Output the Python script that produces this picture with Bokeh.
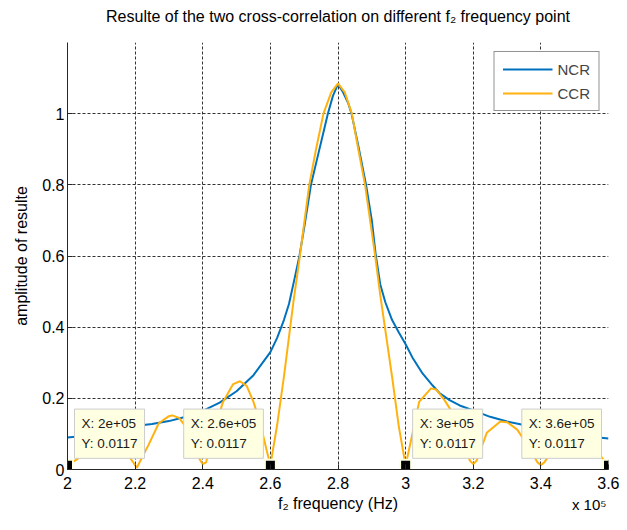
from bokeh.plotting import figure
from bokeh.models import Label, Legend, LegendItem, FixedTicker, Range1d
from bokeh.embed import file_html
from bokeh.resources import INLINE

# ---------------- data ----------------
ncr_freq = [2.00e5, 2.05e5, 2.10e5, 2.15e5, 2.20e5, 2.25e5, 2.30e5, 2.35e5, 2.40e5, 2.45e5,
            2.50e5, 2.55e5, 2.60e5, 2.62e5, 2.64e5, 2.655e5, 2.67e5, 2.686e5, 2.70e5, 2.72e5,
            2.74e5, 2.76e5, 2.77e5, 2.785e5, 2.80e5, 2.815e5, 2.83e5, 2.84e5, 2.86e5, 2.883e5,
            2.90e5, 2.912e5, 2.925e5, 2.94e5, 2.96e5, 2.98e5, 3.00e5, 3.02e5, 3.05e5, 3.08e5,
            3.10e5, 3.13e5, 3.16e5, 3.20e5, 3.25e5, 3.30e5, 3.35e5, 3.40e5, 3.45e5, 3.50e5,
            3.55e5, 3.60e5]
ncr_amp = [0.090, 0.095, 0.105, 0.115, 0.122, 0.128, 0.136, 0.148, 0.165, 0.188,
           0.220, 0.265, 0.330, 0.370, 0.420, 0.465, 0.530, 0.600, 0.680, 0.800,
           0.880, 0.960, 1.000, 1.050, 1.083, 1.060, 1.030, 1.000, 0.910, 0.800,
           0.700, 0.600, 0.520, 0.470, 0.420, 0.385, 0.352, 0.315, 0.270, 0.236,
           0.215, 0.195, 0.180, 0.166, 0.148, 0.135, 0.125, 0.115, 0.107, 0.100,
           0.092, 0.087]

ccr_freq = [2.00e5, 2.03e5, 2.06e5, 2.10e5, 2.14e5, 2.18e5, 2.205e5, 2.24e5, 2.27e5, 2.30e5,
            2.31e5, 2.33e5, 2.35e5, 2.37e5, 2.39e5, 2.40e5, 2.41e5, 2.43e5, 2.46e5, 2.49e5,
            2.51e5, 2.53e5, 2.55e5, 2.57e5, 2.59e5, 2.60e5, 2.62e5, 2.64e5, 2.668e5, 2.688e5,
            2.715e5, 2.735e5, 2.757e5, 2.78e5, 2.80e5, 2.82e5, 2.841e5, 2.86e5, 2.88e5, 2.91e5,
            2.925e5, 2.96e5, 2.98e5, 3.00e5, 3.02e5, 3.04e5, 3.075e5, 3.09e5, 3.115e5, 3.145e5,
            3.17e5, 3.19e5, 3.20e5, 3.21e5, 3.24e5, 3.28e5, 3.30e5, 3.33e5, 3.36e5, 3.39e5,
            3.40e5, 3.41e5, 3.45e5, 3.50e5, 3.54e5, 3.57e5, 3.60e5]
ccr_amp = [0.0117, 0.030, 0.070, 0.095, 0.080, 0.040, 0.005, 0.070, 0.130, 0.150,
           0.152, 0.145, 0.120, 0.080, 0.030, 0.015, 0.020, 0.100, 0.190, 0.240,
           0.248, 0.235, 0.190, 0.130, 0.050, 0.0117, 0.125, 0.260, 0.470, 0.605,
           0.800, 0.900, 1.000, 1.060, 1.085, 1.060, 1.000, 0.900, 0.800, 0.600,
           0.490, 0.260, 0.120, 0.0117, 0.100, 0.190, 0.228, 0.225, 0.195, 0.150,
           0.080, 0.025, 0.015, 0.025, 0.103, 0.135, 0.133, 0.112, 0.070, 0.020,
           0.012, 0.020, 0.075, 0.098, 0.080, 0.045, 0.0117]

tip_freq = [2.0e5, 2.6e5, 3.0e5, 3.6e5]
tip_amp = [0.0117, 0.0117, 0.0117, 0.0117]
tip_xtext = ["2e+05", "2.6e+05", "3e+05", "3.6e+05"]
tip_ytext = ["0.0117", "0.0117", "0.0117", "0.0117"]
tip_side = ["right", "left", "right", "left"]

x_ticks = [2.0e5, 2.2e5, 2.4e5, 2.6e5, 2.8e5, 3.0e5, 3.2e5, 3.4e5, 3.6e5]
x_tick_labels = ["2", "2.2", "2.4", "2.6", "2.8", "3", "3.2", "3.4", "3.6"]
y_ticks = [0, 0.2, 0.4, 0.6, 0.8, 1.0]
y_tick_labels = ["0", "0.2", "0.4", "0.6", "0.8", "1"]
x_multiplier = "x 10\u2075"

series_names = ["NCR", "CCR"]
series_colors = ["#0072BD", "#FFB20F"]

FONT = "Liberation Sans"

p = figure(width=619, height=514, output_backend="svg", toolbar_location=None,
           x_range=Range1d(2.0e5, 3.6e5), y_range=Range1d(0, 1.2),
           min_border_left=67, min_border_right=11, min_border_top=42, min_border_bottom=44)

p.title.text = "Resulte of the two cross-correlation on different f\u2082 frequency point"
p.title.align = "center"
p.title.text_font = FONT
p.title.text_font_size = "16px"
p.title.text_font_style = "normal"
p.title.text_color = "#000000"
p.title.standoff = 1

p.outline_line_color = None
p.background_fill_color = "white"
p.border_fill_color = "white"

for ax in (p.xaxis, p.yaxis):
    ax.axis_line_color = "#262626"
    ax.axis_line_width = 1
    ax.major_tick_in = 5
    ax.major_tick_out = 0
    ax.minor_tick_line_color = None
    ax.major_tick_line_color = "#262626"
    ax.major_label_text_font = FONT
    ax.major_label_text_font_size = "16px"
    ax.major_label_text_color = "#000000"
    ax.axis_label_text_font = FONT
    ax.axis_label_text_font_size = "16px"
    ax.axis_label_text_font_style = "normal"
    ax.axis_label_text_color = "#000000"

p.xaxis.ticker = FixedTicker(ticks=x_ticks)
p.xaxis.major_label_overrides = dict(zip(x_ticks, x_tick_labels))
p.yaxis.ticker = FixedTicker(ticks=y_ticks)
p.yaxis.major_label_overrides = dict(zip(y_ticks, y_tick_labels))
p.xaxis.axis_label = "f\u2082 frequency (Hz)"
p.yaxis.axis_label = "amplitude of resulte"
p.xaxis.major_label_standoff = 7
p.xaxis.axis_label_standoff = 3
p.yaxis.major_label_standoff = 3
p.yaxis.axis_label_standoff = 9

for g in (p.xgrid, p.ygrid):
    g.grid_line_color = "#333333"
    g.grid_line_dash = "3 2"
    g.grid_line_width = 1

r_ncr = p.line(ncr_freq, ncr_amp, line_color=series_colors[0], line_width=2)
r_ccr = p.line(ccr_freq, ccr_amp, line_color=series_colors[1], line_width=2)

legend = Legend(items=[LegendItem(label=series_names[0], renderers=[r_ncr]),
                       LegendItem(label=series_names[1], renderers=[r_ccr])],
                location="top_right")
legend.margin = 9
legend.padding = 8
legend.spacing = 6
legend.glyph_width = 50
legend.glyph_height = 18
legend.label_standoff = 5
legend.label_text_font = FONT
legend.label_text_font_size = "15px"
legend.border_line_color = "#262626"
legend.border_line_width = 1
legend.background_fill_color = "white"
legend.background_fill_alpha = 1
p.add_layout(legend)

# data tips
for fx, fy, tx, ty, side in zip(tip_freq, tip_amp, tip_xtext, tip_ytext, tip_side):
    lab = Label(x=fx, y=fy, x_offset=7 if side == "right" else -7, y_offset=7,
                text="X: %s\nY: %s" % (tx, ty),
                anchor="bottom_left" if side == "right" else "bottom_right",
                text_align="left", text_baseline="bottom",
                text_font=FONT, text_font_size="13.5px", text_color="#1a1a1a",
                text_line_height=1.35,
                padding=7,
                background_fill_color="#FFFFE1", background_fill_alpha=1,
                border_line_color="#CDCDCD", border_line_width=1)
    p.add_layout(lab)

p.scatter(tip_freq, tip_amp, marker="square", size=11, fill_color="black",
          line_color="#FFFFE1", line_width=2)

# axis multiplier "x 10^5" (kept in a side panel so it is not clipped to the frame)
mult = Label(x=x_ticks[-1], y=y_ticks[0], x_offset=-2, y_offset=-35,
             text=x_multiplier, text_align="right", text_baseline="alphabetic",
             text_font=FONT, text_font_size="15px", text_color="#000000")
p.add_layout(mult, "above")

open("out.html", "w").write(file_html(p, INLINE))
